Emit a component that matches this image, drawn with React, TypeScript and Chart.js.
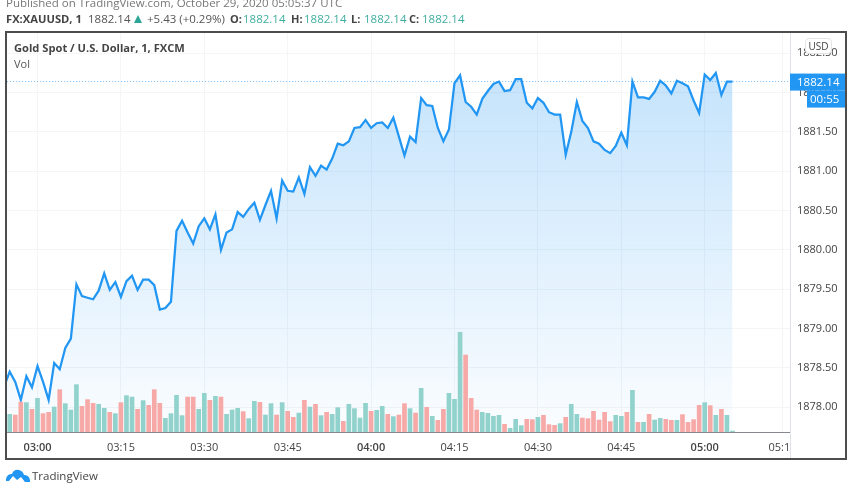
import React, { useEffect, useRef } from "react";
import Chart from "chart.js/auto";

const FONT = "'Open Sans', sans-serif";

// Minute index (0 = 02:55); index -1 is the clipped point left of the pane.
const prices = [
  1878.26, 1878.45, 1878.32, 1878.09, 1878.39, 1878.25, 1878.52, 1878.32, 1878.09, 1878.56, 1878.48,
  1878.75, 1878.87, 1879.56, 1879.41, 1879.39, 1879.37, 1879.48, 1879.70, 1879.49, 1879.59,
  1879.40, 1879.60, 1879.67, 1879.49, 1879.62, 1879.62, 1879.55, 1879.24, 1879.26, 1879.34,
  1880.24, 1880.37, 1880.22, 1880.08, 1880.30, 1880.40, 1880.26, 1880.45, 1880.00, 1880.22,
  1880.26, 1880.48, 1880.42, 1880.52, 1880.60, 1880.38, 1880.57, 1880.75, 1880.40, 1880.88,
  1880.75, 1880.74, 1880.92, 1880.71, 1881.05, 1880.94, 1881.07, 1881.02, 1881.16, 1881.35,
  1881.33, 1881.38, 1881.55, 1881.56, 1881.65, 1881.55, 1881.61, 1881.62, 1881.55, 1881.68,
  1881.44, 1881.20, 1881.44, 1881.37, 1881.93, 1881.84, 1881.83, 1881.55, 1881.38, 1881.53,
  1882.12, 1882.22, 1881.88, 1881.82, 1881.72, 1881.92, 1882.02, 1882.11, 1882.14, 1882.02,
  1882.03, 1882.17, 1882.17, 1881.87, 1881.80, 1881.93, 1881.87, 1881.75, 1881.72, 1881.72,
  1881.21, 1881.50, 1881.88, 1881.64, 1881.55, 1881.38, 1881.35, 1881.27, 1881.23, 1881.32,
  1881.49, 1881.33, 1882.14, 1881.94, 1881.94, 1881.92, 1882.01, 1882.15, 1882.09, 1881.99,
  1882.15, 1882.12, 1882.08, 1881.90, 1881.74, 1882.23, 1882.16, 1882.25, 1881.97, 1882.14, 1882.14,
];

const volumes = [
  18, 17.3, 30.3, 29.7, 23, 34, 18.7, 20, 25.3, 42.7, 28.7, 22.3, 47.7, 26, 32.7, 29, 28, 24, 20, 18.7,
  29.7, 36.7, 35.3, 23, 31.7, 27, 42.7, 29, 14, 18.7, 37, 16.7, 35.3, 35.3, 23, 39, 32, 36, 35.3, 18,
  22.3, 24, 20.7, 13.7, 31, 30, 17.3, 28.7, 17.3, 29.7, 21, 15, 19.3, 32, 25.3, 28, 16.7, 20, 18, 24.7,
  11, 28, 23.7, 14.3, 29, 21, 22, 26, 18, 15.7, 17.3, 28.7, 23.7, 19.3, 44, 25, 16, 12, 23, 39,
  33, 100, 77.3, 34, 22.3, 20, 19, 16, 17, 8, 4, 13, 6.7, 13, 12.7, 15, 17, 7.7, 7, 8.7,
  15, 28, 18, 14.3, 13.7, 21, 12.3, 20, 10.7, 17, 16, 20, 42, 10, 10, 18, 12.3, 14, 13, 12,
  12, 17.7, 10, 12.7, 27, 29.7, 26.7, 17, 23, 17, 1.3,
];

// g = up volume, r = down volume
const volumeSides = [
  "g","r","r","g","r","g","r","r","g","r","g","g","g","r","r","r","g","g","r","g",
  "r","g","g","r","g","r","r","r","g","g","g","g","r","r","g","g","r","g","r","g",
  "g","g","r","g","g","r","g","g","r","g","r","r","g","r","g","r","g","r","g","g",
  "r","g","g","g","g","r","g","g","r","g","r","r","g","r","g","r","g","r","r","g",
  "g","g","r","r","r","g","g","g","g","r","g","g","g","r","r","g","r","r","r","g",
  "r","g","g","r","r","r","r","r","r","g","g","r","g","r","g","r","g","g","r","r",
  "g","r","r","r","r","g","r","g","r","g","g",
];

const priceTicks = [1878, 1878.5, 1879, 1879.5, 1880, 1880.5, 1881, 1881.5, 1882, 1882.5];
const timeTickLabels = ["03:00", "03:15", "03:30", "03:45", "04:00", "04:15", "04:30", "04:45", "05:00", "05:15"];
const timeTickIndexes = [5, 20, 35, 50, 65, 80, 95, 110, 125, 139];
const boldTimeTicks = ["03:00", "04:00", "05:00"];

const lastPrice = 1882.14;
const countdown = "00:55";
const upColor = "#92d2cc";
const downColor = "#f7a9a7";
const lineColor = "#2196f3";

const quote = ["O:", "H:", "L:", "C:"];
const quoteLeft = [230, 291, 351, 409];

function Txt(p: { x: number; y: number; c?: string; b?: boolean; s?: number; children: any }) {
  return (
    <span
      style={{
        position: "absolute",
        left: p.x,
        top: p.y,
        color: p.c || "#444",
        fontWeight: p.b ? 700 : 400,
        fontSize: p.s || 11.5,
        lineHeight: "14px",
        whiteSpace: "nowrap",
        fontFamily: FONT,
      }}
    >
      {p.children}
    </span>
  );
}

export default function App() {
  const ref = useRef<HTMLCanvasElement>(null);
  useEffect(() => {
    const overlay = {
      id: "overlay",
      afterDraw(c: any) {
        const g = c.ctx;
        const y = c.scales.y;
        const { right, bottom } = c.chartArea;
        g.save();
        g.fillStyle = "#fff";
        g.fillRect(right + 0.5, bottom + 1, 56, 26);
        g.strokeStyle = "#dfe2e6";
        g.lineWidth = 1;
        g.beginPath();
        g.moveTo(right + 0.5, bottom);
        g.lineTo(right + 0.5, 459);
        g.stroke();
        const py = y.getPixelForValue(lastPrice);
        g.fillStyle = lineColor;
        g.fillRect(right, py - 8, 56, 17);
        g.fillRect(right + 17, py + 9, 39, 17);
        g.fillStyle = "#fff";
        g.font = "11.5px " + FONT;
        g.textBaseline = "middle";
        g.textAlign = "left";
        g.fillText(lastPrice.toFixed(2), right + 7, py + 1);
        g.fillText(countdown, right + 20, py + 18);
        g.strokeStyle = "#4d4d4d";
        g.lineWidth = 2;
        g.strokeRect(6, 32, 840, 427);
        g.restore();
      },
    };
    const chart = new Chart(ref.current!, {
      type: "bar",
      plugins: [overlay],
      data: {
        datasets: [
          {
            type: "line",
            order: 0,
            data: [
              { x: -1, y: lastPrice },
              { x: 141, y: lastPrice },
            ],
            borderColor: "rgba(33,150,243,0.65)",
            borderWidth: 1,
            borderDash: [1, 2],
            pointRadius: 0,
            fill: false,
          },
          {
            type: "line",
            order: 2,
            data: prices.map((p, i) => ({ x: i - 1, y: p })),
            borderColor: lineColor,
            borderWidth: 2.25,
            pointRadius: 0,
            tension: 0,
            fill: "start",
            backgroundColor: (ctx: any) => {
              const a = ctx.chart.chartArea;
              if (!a) return "rgba(33,150,243,0.2)";
              const top = ctx.chart.scales.y.getPixelForValue(1882.25);
              const gr = ctx.chart.ctx.createLinearGradient(0, top, 0, a.bottom);
              gr.addColorStop(0, "rgba(33,150,243,0.26)");
              gr.addColorStop(1, "rgba(33,150,243,0.02)");
              return gr;
            },
          },
          {
            type: "bar",
            order: 1,
            yAxisID: "vol",
            data: volumes.map((v, i) => ({ x: i, y: v })),
            backgroundColor: volumeSides.map((s) => (s === "g" ? upColor : downColor)),
            barPercentage: 0.84,
            categoryPercentage: 1,
          },
        ],
      } as any,
      options: {
        animation: false,
        responsive: false,
        devicePixelRatio: 1,
        layout: { padding: { left: 7, top: 33, right: 0, bottom: 0 } },
        plugins: { legend: { display: false }, tooltip: { enabled: false } },
        scales: {
          x: {
            type: "linear",
            offset: false,
            min: -0.486,
            max: 140.34,
            grid: { color: "#f3f5f7", drawTicks: false, offset: false },
            border: { color: "#868a90" },
            afterBuildTicks: (s: any) => {
              s.ticks = timeTickIndexes.map((v) => ({ value: v }));
            },
            afterFit: (s: any) => {
              s.height = 53;
            },
            ticks: {
              autoSkip: false,
              maxRotation: 0,
              padding: 9,
              color: "#444",
              callback: (v: any) => timeTickLabels[timeTickIndexes.indexOf(v)],
              font: (ctx: any) => ({
                family: FONT,
                size: 11,
                weight: boldTimeTicks.includes(timeTickLabels[timeTickIndexes.indexOf(ctx.tick?.value)]) ? "600" : "normal",
              }),
            },
          },
          y: {
            position: "right",
            min: 1877.682,
            max: 1882.758,
            grid: { color: "#f3f5f7", drawTicks: false },
            border: { color: "#dfe2e6" },
            afterBuildTicks: (s: any) => {
              s.ticks = priceTicks.map((v) => ({ value: v }));
            },
            afterFit: (s: any) => {
              s.width = 62;
            },
            ticks: {
              padding: 7,
              color: "#444",
              font: { family: FONT, size: 11 },
              callback: (v: any) => Number(v).toFixed(2),
            },
          },
          vol: { display: false, min: 0, max: 399 },
        },
      } as any,
    });
    return () => chart.destroy();
  }, []);

  return (
    <div style={{ position: "absolute", left: 0, top: 0, width: 852, height: 485, overflow: "hidden", background: "#fff" }}>
      <canvas ref={ref} width={852} height={485} style={{ position: "absolute", left: 0, top: 0, width: 852, height: 485 }} />
      <Txt x={6} y={-4} c="#777">Published on TradingView.com, October 29, 2020 05:05:37 UTC</Txt>
      <Txt x={6} y={12} b s={11.2}>FX:XAUUSD, 1</Txt>
      <Txt x={88} y={12} c="#555">1882.14</Txt>
      <span style={{ position: "absolute", left: 134, top: 15, width: 0, height: 0, borderLeft: "4.5px solid transparent", borderRight: "4.5px solid transparent", borderBottom: "8px solid #2da596" }} />
      <Txt x={147} y={12} c="#555">+5.43 (+0.29%)</Txt>
      {quote.map((q, i) => (
        <React.Fragment key={q}>
          <Txt x={quoteLeft[i]} y={12} b s={11}>{q}</Txt>
          <Txt x={quoteLeft[i] + 13} y={12} c="#3fae9f">1882.14</Txt>
        </React.Fragment>
      ))}
      <Txt x={14} y={41} b s={11.15}>Gold Spot / U.S. Dollar, 1, FXCM</Txt>
      <Txt x={14} y={57} c="#555" s={11}>Vol</Txt>
      <div style={{ position: "absolute", left: 805, top: 38, width: 27, height: 16, boxSizing: "border-box", background: "#fff", border: "1px solid #e2e4e8", borderRadius: 4, textAlign: "center", fontFamily: FONT, fontSize: 10, lineHeight: "14px", color: "#444" }}>USD</div>
      <svg style={{ position: "absolute", left: 5, top: 469 }} width="26" height="14" viewBox="0 0 26 14">
        <path d="M1 12 L1 10 Q2 5 7 5 Q9 0 14 1 Q18 2 19 6 Q24 6 25 11 L25 13 L20 13 L16 8 L12 11 L8 7 L4 12 Z" fill="#2196f3" />
      </svg>
      <Txt x={32} y={469} c="#444" s={11.5}>TradingView</Txt>
    </div>
  );
}
